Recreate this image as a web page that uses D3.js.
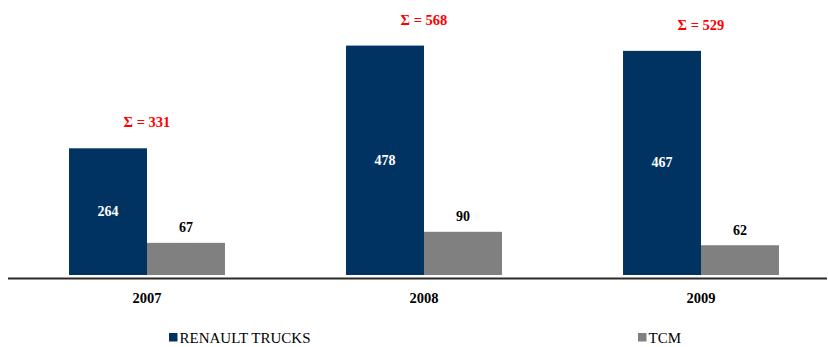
<!DOCTYPE html>
<html>
<head>
<meta charset="utf-8">
<script src="https://cdn.jsdelivr.net/npm/d3@7"></script>
<style>
  html, body { margin: 0; padding: 0; background: #fff; }
  svg { display: block; }
  text { font-family: "Liberation Serif", "Times New Roman", serif; }
</style>
</head>
<body>
<svg id="chart" width="828" height="347"></svg>
<script>
const years = ["2007", "2008", "2009"];
const seriesNames = ["RENAULT TRUCKS", "TCM"];
const renault = [264, 478, 467];
const tcm = [67, 90, 62];
const totals = [331, 568, 529];
const colors = ["#003362", "#808080"];

const svg = d3.select("#chart");
const W = 828, H = 347;
const baseY = 275;

const x0 = d3.scaleBand().domain(years).range([8.5, 839.5]).paddingInner(0.437).paddingOuter(0.2185);
const x1 = d3.scaleBand().domain(seriesNames).range([0, x0.bandwidth()]);
const y = d3.scaleLinear().domain([0, 573]).range([baseY, 0]);

const data = years.map((yr, i) => ({ year: yr, total: totals[i], values: [renault[i], tcm[i]] }));

const groups = svg.selectAll("g.grp").data(data).join("g")
  .attr("class", "grp")
  .attr("transform", d => `translate(${x0(d.year)},0)`);

groups.selectAll("rect").data(d => d.values.map((v, j) => ({ v, s: seriesNames[j], j })))
  .join("rect")
  .attr("x", d => x1(d.s))
  .attr("y", d => y(d.v))
  .attr("width", x1.bandwidth())
  .attr("height", d => y(0) - y(d.v))
  .attr("fill", d => colors[d.j]);

// value labels
groups.selectAll("text.val").data(d => d.values.map((v, j) => ({ v, s: seriesNames[j], j })))
  .join("text")
  .attr("class", "val")
  .attr("x", d => x1(d.s) + x1.bandwidth() / 2)
  .attr("y", d => d.j === 0 ? (y(d.v) + y(0)) / 2 : y(d.v) - 15)
  .attr("text-anchor", "middle")
  .attr("dominant-baseline", "central")
  .attr("font-size", 14)
  .attr("font-weight", "bold")
  .attr("fill", d => d.j === 0 ? "#ffffff" : "#000000")
  .text(d => d.v);

// totals
groups.append("text")
  .attr("x", x0.bandwidth() / 2)
  .attr("y", d => y(d.values[0]) - 26)
  .attr("text-anchor", "middle")
  .attr("dominant-baseline", "central")
  .attr("font-size", 14.5)
  .attr("font-weight", "bold")
  .attr("fill", "#ff0000")
  .text(d => "Σ = " + d.total);

// axis line
svg.append("line")
  .attr("x1", 8).attr("x2", 827)
  .attr("y1", 278.5).attr("y2", 278.5)
  .attr("stroke", "#2a2a2a")
  .attr("stroke-width", 2);

// year labels
const xAxis = d3.axisBottom(x0).tickSize(0).tickPadding(0);
const ax = svg.append("g").attr("transform", "translate(0,298)").call(xAxis);
ax.select(".domain").remove();
ax.selectAll("text")
  .attr("y", 0).attr("dy", null)
  .attr("dominant-baseline", "central")
  .attr("font-size", 14.5)
  .attr("font-weight", "bold")
  .attr("fill", "#000")
  .style("font-family", '"Liberation Serif", "Times New Roman", serif');

// legend
const legendX = [169, 638];
const leg = svg.selectAll("g.leg").data(seriesNames).join("g")
  .attr("class", "leg")
  .attr("transform", (d, i) => `translate(${legendX[i]},333)`);
leg.append("rect").attr("width", 8.5).attr("height", 8.5).attr("fill", (d, i) => colors[i]);
leg.append("text")
  .attr("x", 10.5).attr("y", 4.5)
  .attr("dominant-baseline", "central")
  .attr("font-size", 15)
  .attr("fill", "#000")
  .text(d => d);
</script>
</body>
</html>
